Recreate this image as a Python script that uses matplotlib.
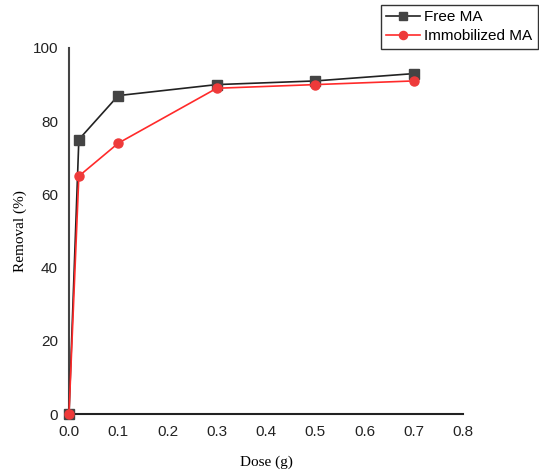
import matplotlib
matplotlib.use("Agg")
import matplotlib.pyplot as plt

dose = [0.0, 0.02, 0.1, 0.3, 0.5, 0.7]
free_ma = [0, 75, 87, 90, 91, 93]
immob_ma = [0, 65, 74, 89, 90, 91]
xticks = [0.0, 0.1, 0.2, 0.3, 0.4, 0.5, 0.6, 0.7, 0.8]
yticks = [0, 20, 40, 60, 80, 100]

plt.rcParams['font.family'] = ['Liberation Sans', 'DejaVu Sans']

fig = plt.figure(figsize=(5.39, 4.75), dpi=100)
ax = fig.add_axes([0.128, 0.128, 0.731, 0.771])

ax.plot(dose, free_ma, '-s', color='#222222', mfc='#444444', mec='#444444',
        ms=6.5, lw=1.2, label='Free MA', clip_on=False, zorder=3)
ax.plot(dose, immob_ma, '-o', color='#ff2a2a', mfc='#ee3a3a', mec='#ee3a3a',
        ms=6.5, lw=1.2, label='Immobilized MA', clip_on=False, zorder=4)

ax.set_xlim(0, 0.8)
ax.set_ylim(0, 100)
ax.set_xticks(xticks)
ax.set_xticklabels(['{:.1f}'.format(t) for t in xticks])
ax.set_yticks(yticks)
ax.tick_params(length=0, labelsize=11, pad=8)
for lab in ax.get_xticklabels() + ax.get_yticklabels():
    lab.set_color('#222222')
    lab.set_fontweight('medium')

for s in ['top', 'right']:
    ax.spines[s].set_visible(False)
ax.spines['left'].set_color('#444444')
ax.spines['bottom'].set_color('#222222')
ax.spines['left'].set_linewidth(1.5)
ax.spines['bottom'].set_linewidth(1.5)

ax.set_xlabel('Dose (g)', family='Liberation Serif', fontsize=11, labelpad=12)
ax.set_ylabel('Removal (%)', family='Liberation Serif', fontsize=11, labelpad=4)

leg = fig.legend(loc='upper right', bbox_to_anchor=(0.998, 0.99), frameon=True,
                 fancybox=False, edgecolor='black', fontsize=11,
                 handlelength=2.2, borderpad=0.35, labelspacing=0.35,
                 handletextpad=0.3, borderaxespad=0, markerscale=0.9)
leg.get_frame().set_linewidth(1.0)

fig.savefig('out.png', dpi=100)
